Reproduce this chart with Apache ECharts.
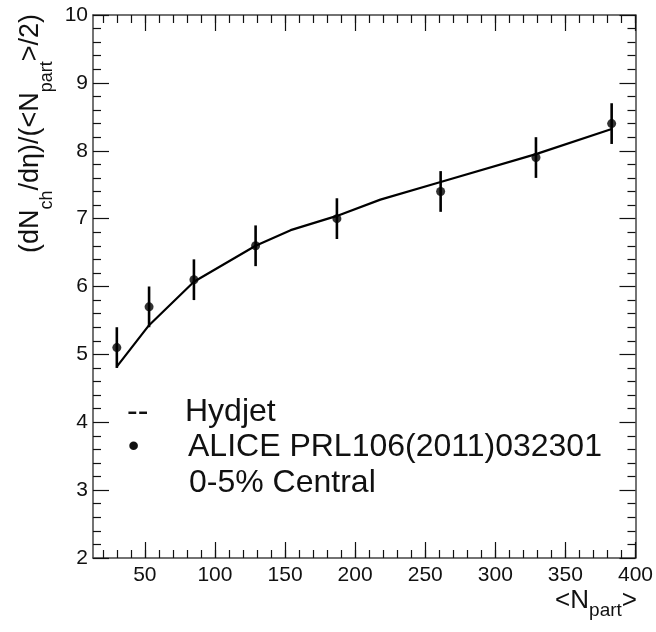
<!DOCTYPE html>
<html>
<head>
<meta charset="utf-8">
<script src="https://cdn.jsdelivr.net/npm/echarts@6/dist/echarts.min.js"></script>
<style>
html,body{margin:0;padding:0;background:#fff;}
#c{width:656px;height:632px;}
</style>
</head>
<body>
<div id="c"></div>
<script>
// ---- data ----
const aliceNpart = [383, 329, 261, 187, 129, 85, 53, 30];
const aliceVal   = [8.4, 7.9, 7.4, 7.0, 6.6, 6.1, 5.7, 5.1];
const aliceErr   = [0.3, 0.3, 0.3, 0.3, 0.3, 0.3, 0.3, 0.3];

const hydjetNpart = [30, 53, 85, 129, 154, 187, 218, 261, 329, 383];
const hydjetVal   = [4.82, 5.43, 6.07, 6.60, 6.83, 7.04, 7.28, 7.54, 7.95, 8.32];

const xMajorTicks = [50, 100, 150, 200, 250, 300, 350, 400];
const xMinorTicks = [20, 30, 40, 50, 60, 70, 80, 90, 100, 110, 120, 130, 140, 150, 160, 170, 180, 190, 200,
                     210, 220, 230, 240, 250, 260, 270, 280, 290, 300, 310, 320, 330, 340, 350, 360, 370, 380, 390, 400];
const xRange = [13, 400];
const yRange = [2, 10];

const legendLines = ['Hydjet', 'ALICE PRL106(2011)032301', '0-5% Central'];
// axis titles as [text, isSubscript] fragments
const yTitleParts = [['(dN', false], ['ch', true], ['/dη)/(<N', false], ['part', true], ['>/2)', false]];
const xTitleParts = [['<N', false], ['part', true], ['>', false]];

// ---- chart ----
const FONT = 'Liberation Sans, Arial, Helvetica, sans-serif';
const AX = '#444';
const chart = echarts.init(document.getElementById('c'), null, {renderer: 'canvas'});

const mctx = document.createElement('canvas').getContext('2d');
function textWidth(t, size) {
  mctx.font = size + 'px "Liberation Sans", Arial, sans-serif';
  return mctx.measureText(t).width;
}
// build right-aligned fragments ending at local x=0, main text middle at y=0
function latexChildren(parts, mainSize, subSize, drop) {
  const widths = parts.map(p => textWidth(p[0], p[1] ? subSize : mainSize));
  const total = widths.reduce((a, b) => a + b, 0);
  let cx = -total;
  return parts.map((p, i) => {
    const el = {
      type: 'text', x: cx, y: p[1] ? drop : 0,
      style: {text: p[0], fontSize: p[1] ? subSize : mainSize, fontFamily: FONT, fill: '#111',
              align: 'left', verticalAlign: 'middle'}
    };
    cx += widths[i];
    return el;
  });
}

function xAxisDef(pos, ticks, len, labels, lineShow) {
  return {
    type: 'value', position: pos, min: xRange[0], max: xRange[1],
    axisLine: {show: lineShow, onZero: false, lineStyle: {color: AX, width: 1.5}},
    axisTick: {show: true, inside: true, length: len, customValues: ticks, lineStyle: {color: '#111', width: 1.2}},
    axisLabel: labels ? {show: true, customValues: xMajorTicks, fontSize: 21, fontFamily: FONT, color: '#111', margin: 7, showMinLabel: true, showMaxLabel: true}
                      : {show: false},
    splitLine: {show: false}
  };
}
function yAxisDef(pos, labels) {
  return {
    type: 'value', position: pos, min: yRange[0], max: yRange[1], interval: 1,
    axisLine: {show: true, onZero: false, lineStyle: {color: AX, width: 1.5}},
    axisTick: {show: true, inside: true, length: 16, lineStyle: {color: '#111', width: 1.2}},
    minorTick: {show: true, splitNumber: 5, length: 8, lineStyle: {color: '#111', width: 1.2}},
    axisLabel: labels ? {show: true, fontSize: 21, fontFamily: FONT, color: '#111', margin: 5} : {show: false},
    splitLine: {show: false}, minorSplitLine: {show: false}
  };
}

const errData = aliceNpart.map((x, i) => [x, aliceVal[i], aliceErr[i]]);
const LEG = 32;

const option = {
  animation: false,
  backgroundColor: '#fff',
  grid: {left: 93, right: 20, top: 15, bottom: 74, containLabel: false},
  xAxis: [
    xAxisDef('bottom', xMajorTicks, 16, true, true),
    xAxisDef('bottom', xMinorTicks, 8, false, false),
    xAxisDef('top', xMajorTicks, 16, false, true),
    xAxisDef('top', xMinorTicks, 8, false, false)
  ],
  yAxis: [yAxisDef('left', true), yAxisDef('right', false)],
  series: [
    {
      type: 'line', name: 'Hydjet', xAxisIndex: 0, yAxisIndex: 0,
      data: hydjetNpart.map((x, i) => [x, hydjetVal[i]]),
      showSymbol: false, symbol: 'none', smooth: false,
      lineStyle: {color: '#000', width: 2.2}
    },
    {
      type: 'custom', name: 'err', xAxisIndex: 0, yAxisIndex: 0,
      data: errData,
      renderItem: function (params, api) {
        const x = api.value(0), y = api.value(1), e = api.value(2);
        const p1 = api.coord([x, y - e]);
        const p2 = api.coord([x, y + e]);
        return {type: 'line', shape: {x1: p1[0], y1: p1[1], x2: p2[0], y2: p2[1]},
                style: {stroke: '#000', lineWidth: 2.6}};
      },
      z: 3
    },
    {
      type: 'scatter', name: 'ALICE', xAxisIndex: 0, yAxisIndex: 0,
      data: aliceNpart.map((x, i) => [x, aliceVal[i]]),
      symbol: 'circle', symbolSize: 9,
      itemStyle: {color: '#000'}, z: 4
    }
  ],
  graphic: [
    {type: 'group', x: 31, y: 14, rotation: Math.PI / 2,
     children: latexChildren(yTitleParts, 27, 18, 16)},
    {type: 'group', x: 637, y: 601,
     children: latexChildren(xTitleParts, 26, 19, 9.5)},
    {type: 'text', x: 127, y: 412, style: {text: '--', fontSize: LEG, fontFamily: FONT, fill: '#111', verticalAlign: 'middle'}},
    {type: 'text', x: 185, y: 412, style: {text: legendLines[0], fontSize: LEG, fontFamily: FONT, fill: '#111', verticalAlign: 'middle'}},
    {type: 'text', x: 128, y: 447, style: {text: '•', fontSize: LEG, fontFamily: FONT, fill: '#111', verticalAlign: 'middle'}},
    {type: 'text', x: 188, y: 447, style: {text: legendLines[1], fontSize: LEG, fontFamily: FONT, fill: '#111', verticalAlign: 'middle'}},
    {type: 'text', x: 189, y: 483, style: {text: legendLines[2], fontSize: LEG, fontFamily: FONT, fill: '#111', verticalAlign: 'middle'}}
  ]
};
chart.setOption(option);
</script>
</body>
</html>
